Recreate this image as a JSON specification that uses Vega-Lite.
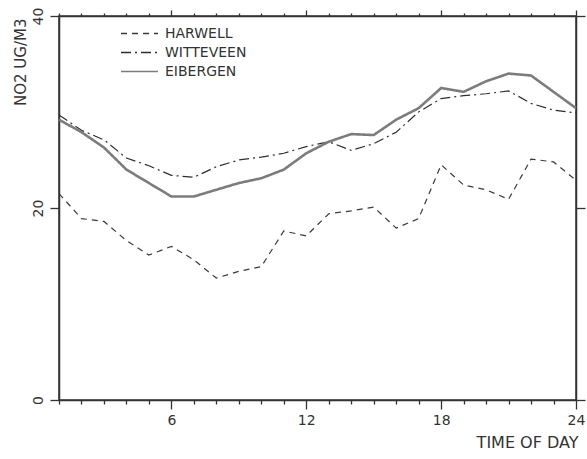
{
  "$schema": "https://vega.github.io/schema/vega-lite/v6.json",
  "width": 517,
  "height": 384,
  "autosize": "none",
  "padding": {"left": 59, "top": 16, "right": 11, "bottom": 59},
  "background": "white",
  "config": {
    "font": "DejaVu Sans",
    "view": {"stroke": "#333", "strokeWidth": 1.5},
    "axis": {"domainColor": "#333", "domainWidth": 1.5, "tickColor": "#333", "tickWidth": 1.3, "labelColor": "#333", "titleColor": "#333", "grid": false, "titleFontWeight": "normal"}
  },
  "datasets": {
    "no2": [
      {"hour": 1, "site": "HARWELL", "no2": 21.5}, {"hour": 1, "site": "WITTEVEEN", "no2": 29.7}, {"hour": 1, "site": "EIBERGEN", "no2": 29.2},
      {"hour": 2, "site": "HARWELL", "no2": 18.9}, {"hour": 2, "site": "WITTEVEEN", "no2": 28.1}, {"hour": 2, "site": "EIBERGEN", "no2": 27.9},
      {"hour": 3, "site": "HARWELL", "no2": 18.6}, {"hour": 3, "site": "WITTEVEEN", "no2": 27.1}, {"hour": 3, "site": "EIBERGEN", "no2": 26.3},
      {"hour": 4, "site": "HARWELL", "no2": 16.6}, {"hour": 4, "site": "WITTEVEEN", "no2": 25.2}, {"hour": 4, "site": "EIBERGEN", "no2": 24.0},
      {"hour": 5, "site": "HARWELL", "no2": 15.1}, {"hour": 5, "site": "WITTEVEEN", "no2": 24.4}, {"hour": 5, "site": "EIBERGEN", "no2": 22.6},
      {"hour": 6, "site": "HARWELL", "no2": 16.0}, {"hour": 6, "site": "WITTEVEEN", "no2": 23.4}, {"hour": 6, "site": "EIBERGEN", "no2": 21.2},
      {"hour": 7, "site": "HARWELL", "no2": 14.6}, {"hour": 7, "site": "WITTEVEEN", "no2": 23.2}, {"hour": 7, "site": "EIBERGEN", "no2": 21.2},
      {"hour": 8, "site": "HARWELL", "no2": 12.7}, {"hour": 8, "site": "WITTEVEEN", "no2": 24.3}, {"hour": 8, "site": "EIBERGEN", "no2": 21.9},
      {"hour": 9, "site": "HARWELL", "no2": 13.4}, {"hour": 9, "site": "WITTEVEEN", "no2": 25.0}, {"hour": 9, "site": "EIBERGEN", "no2": 22.6},
      {"hour": 10, "site": "HARWELL", "no2": 13.9}, {"hour": 10, "site": "WITTEVEEN", "no2": 25.3}, {"hour": 10, "site": "EIBERGEN", "no2": 23.1},
      {"hour": 11, "site": "HARWELL", "no2": 17.6}, {"hour": 11, "site": "WITTEVEEN", "no2": 25.7}, {"hour": 11, "site": "EIBERGEN", "no2": 24.0},
      {"hour": 12, "site": "HARWELL", "no2": 17.1}, {"hour": 12, "site": "WITTEVEEN", "no2": 26.4}, {"hour": 12, "site": "EIBERGEN", "no2": 25.7},
      {"hour": 13, "site": "HARWELL", "no2": 19.4}, {"hour": 13, "site": "WITTEVEEN", "no2": 26.9}, {"hour": 13, "site": "EIBERGEN", "no2": 26.9},
      {"hour": 14, "site": "HARWELL", "no2": 19.7}, {"hour": 14, "site": "WITTEVEEN", "no2": 26.0}, {"hour": 14, "site": "EIBERGEN", "no2": 27.7},
      {"hour": 15, "site": "HARWELL", "no2": 20.1}, {"hour": 15, "site": "WITTEVEEN", "no2": 26.7}, {"hour": 15, "site": "EIBERGEN", "no2": 27.6},
      {"hour": 16, "site": "HARWELL", "no2": 17.9}, {"hour": 16, "site": "WITTEVEEN", "no2": 27.9}, {"hour": 16, "site": "EIBERGEN", "no2": 29.2},
      {"hour": 17, "site": "HARWELL", "no2": 18.9}, {"hour": 17, "site": "WITTEVEEN", "no2": 30.0}, {"hour": 17, "site": "EIBERGEN", "no2": 30.4},
      {"hour": 18, "site": "HARWELL", "no2": 24.5}, {"hour": 18, "site": "WITTEVEEN", "no2": 31.4}, {"hour": 18, "site": "EIBERGEN", "no2": 32.5},
      {"hour": 19, "site": "HARWELL", "no2": 22.4}, {"hour": 19, "site": "WITTEVEEN", "no2": 31.7}, {"hour": 19, "site": "EIBERGEN", "no2": 32.1},
      {"hour": 20, "site": "HARWELL", "no2": 21.9}, {"hour": 20, "site": "WITTEVEEN", "no2": 31.9}, {"hour": 20, "site": "EIBERGEN", "no2": 33.2},
      {"hour": 21, "site": "HARWELL", "no2": 20.9}, {"hour": 21, "site": "WITTEVEEN", "no2": 32.2}, {"hour": 21, "site": "EIBERGEN", "no2": 34.0},
      {"hour": 22, "site": "HARWELL", "no2": 25.1}, {"hour": 22, "site": "WITTEVEEN", "no2": 30.9}, {"hour": 22, "site": "EIBERGEN", "no2": 33.8},
      {"hour": 23, "site": "HARWELL", "no2": 24.8}, {"hour": 23, "site": "WITTEVEEN", "no2": 30.2}, {"hour": 23, "site": "EIBERGEN", "no2": 32.1},
      {"hour": 24, "site": "HARWELL", "no2": 22.9}, {"hour": 24, "site": "WITTEVEEN", "no2": 29.9}, {"hour": 24, "site": "EIBERGEN", "no2": 30.4}
    ]
  },
  "data": {"name": "no2"},
  "resolve": {"axis": {"x": "independent", "y": "independent"}},
  "layer": [
    {
      "encoding": {
        "x": {
          "field": "hour", "type": "quantitative",
          "scale": {"domain": [1, 24], "nice": false, "zero": false},
          "axis": {
            "orient": "bottom",
            "values": [1,2,3,4,5,6,7,8,9,10,11,12,13,14,15,16,17,18,19,20,21,22,23,24],
            "labelExpr": "datum.value % 6 === 0 ? datum.label : ''",
            "labelOverlap": false, "labelFlush": false,
            "tickSize": 9,
            "tickDash": {"condition": {"test": "datum.value % 6 !== 0", "value": [4, 20]}, "value": [20, 0]},
            "labelPadding": 4, "labelFontSize": 14,
            "title": "TIME OF DAY", "titleFontSize": 16,
            "titleAnchor": "end", "titleAlign": "right", "titleBaseline": "middle",
            "titleX": 519, "titleY": 42
          }
        },
        "y": {
          "field": "no2", "type": "quantitative",
          "scale": {"domain": [0, 40], "nice": false},
          "axis": {
            "orient": "left", "values": [0, 20, 40], "tickSize": 9,
            "labelAngle": -90, "labelAlign": "center", "labelBaseline": "bottom",
            "labelPadding": 5, "labelFontSize": 14,
            "title": "NO2 UG/M3", "titleFontSize": 15,
            "titleAnchor": "end", "titleAngle": -90, "titleAlign": "right", "titleBaseline": "middle",
            "titleX": -39, "titleY": 2
          }
        },
        "stroke": {
          "field": "site", "type": "nominal",
          "scale": {"domain": ["HARWELL", "WITTEVEEN", "EIBERGEN"], "range": ["#3a3a3a", "#2e2e2e", "#7c7c7c"]},
          "legend": {
            "title": null, "orient": "none", "legendX": 61, "legendY": 10,
            "symbolType": "stroke", "symbolSize": 1369, "symbolStrokeWidth": 1.3, "clipHeight": 15,
            "labelFontSize": 14, "labelColor": "#333", "labelOffset": 6, "rowPadding": 4, "padding": 0
          }
        },
        "strokeDash": {
          "field": "site", "type": "nominal",
          "scale": {"domain": ["HARWELL", "WITTEVEEN", "EIBERGEN"], "range": [[6, 5], [10, 4, 2, 4], [1, 0]]},
          "legend": {
            "title": null, "orient": "none", "legendX": 61, "legendY": 10,
            "symbolType": "stroke", "symbolSize": 1369, "symbolStrokeWidth": 1.3, "clipHeight": 15,
            "labelFontSize": 14, "labelColor": "#333", "labelOffset": 6, "rowPadding": 4, "padding": 0
          }
        }
      },
      "layer": [
        {"transform": [{"filter": "datum.site === 'HARWELL'"}], "mark": {"type": "line", "strokeWidth": 1.2}},
        {"transform": [{"filter": "datum.site === 'WITTEVEEN'"}], "mark": {"type": "line", "strokeWidth": 1.2}},
        {"transform": [{"filter": "datum.site === 'EIBERGEN'"}], "mark": {"type": "line", "strokeWidth": 2.6}}
      ]
    },
    {
      "mark": {"type": "rule", "opacity": 0},
      "encoding": {
        "x": {
          "field": "hour", "type": "quantitative",
          "axis": {
            "orient": "top",
            "values": [1,2,3,4,5,6,7,8,9,10,11,12,13,14,15,16,17,18,19,20,21,22,23,24],
            "labels": false, "title": null,
            "tickSize": 6,
            "tickDash": {"condition": {"test": "datum.value % 6 !== 0", "value": [3, 20]}, "value": [20, 0]}
          }
        },
        "y": {
          "field": "no2", "type": "quantitative",
          "axis": {"orient": "right", "values": [0, 20, 40], "labels": false, "title": null, "tickSize": 9}
        }
      }
    }
  ]
}
